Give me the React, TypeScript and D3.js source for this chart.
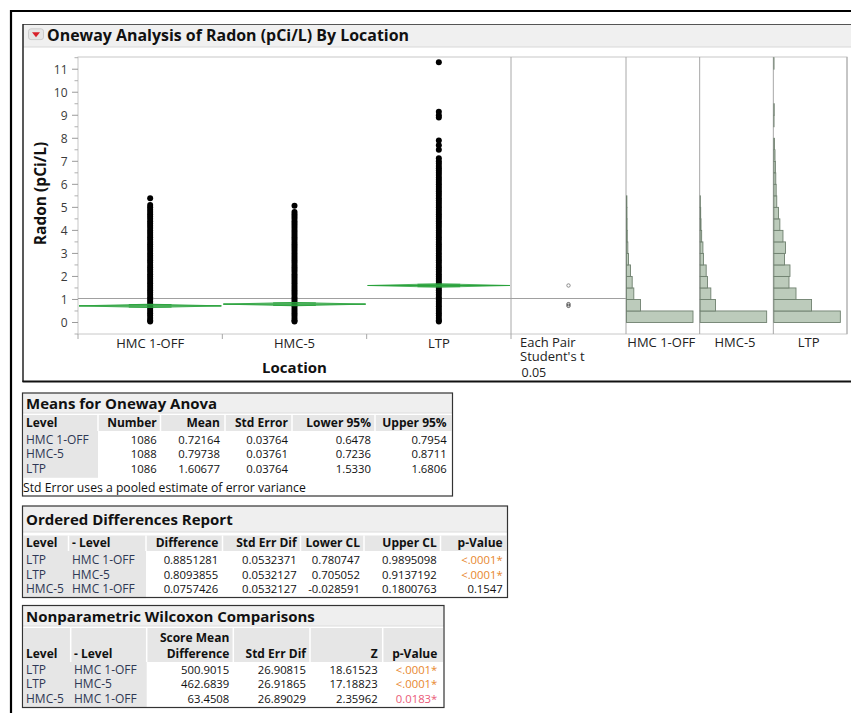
import React from 'react';
import * as d3 from 'd3';

// ---------------- DATA ----------------
const locations = ['HMC 1-OFF', 'HMC-5', 'LTP'];
const yTickValues = [0, 1, 2, 3, 4, 5, 6, 7, 8, 9, 10, 11];

// observed radon values (pCi/L) read from the point columns
const hmc1offValues = [0.04, 0.1, 0.2, 0.3, 0.4, 0.5, 0.6, 0.7, 0.8, 0.9, 1.0, 1.1, 1.2, 1.3, 1.4, 1.5, 1.6, 1.7, 1.8, 1.9, 2.0, 2.1, 2.2, 2.3, 2.4, 2.5, 2.6, 2.7, 2.8, 2.9, 3.0, 3.1, 3.2, 3.3, 3.4, 3.5, 3.6, 3.7, 3.8, 3.9, 4.0, 4.1, 4.2, 4.3, 4.4, 4.5, 4.6, 4.7, 4.8, 4.9, 5.0, 5.1, 5.4];
const hmc5Values = [0.04, 0.1, 0.2, 0.3, 0.4, 0.5, 0.6, 0.7, 0.8, 0.9, 1.0, 1.1, 1.2, 1.3, 1.4, 1.5, 1.6, 1.7, 1.8, 1.9, 2.0, 2.1, 2.2, 2.3, 2.4, 2.5, 2.6, 2.7, 2.8, 2.9, 3.0, 3.1, 3.2, 3.3, 3.4, 3.5, 3.6, 3.7, 3.8, 3.9, 4.0, 4.1, 4.2, 4.3, 4.4, 4.5, 4.6, 4.7, 4.8, 5.07];
const ltpValues = [0.04, 0.1, 0.2, 0.3, 0.4, 0.5, 0.6, 0.7, 0.8, 0.9, 1.0, 1.1, 1.2, 1.3, 1.4, 1.5, 1.6, 1.7, 1.8, 1.9, 2.0, 2.1, 2.2, 2.3, 2.4, 2.5, 2.6, 2.7, 2.8, 2.9, 3.0, 3.1, 3.2, 3.3, 3.4, 3.5, 3.6, 3.7, 3.8, 3.9, 4.0, 4.1, 4.2, 4.3, 4.4, 4.5, 4.6, 4.7, 4.8, 4.9, 5.0, 5.1, 5.2, 5.3, 5.4, 5.5, 5.6, 5.7, 5.8, 5.9, 6.0, 6.1, 6.2, 6.3, 6.4, 6.5, 6.6, 6.7, 6.8, 6.9, 7.0, 7.13, 7.5, 7.7, 7.9, 8.9, 9.0, 9.15, 11.3];

// Means for Oneway Anova
const meanNumber = [1086, 1088, 1086];
const meanValues = [0.72164, 0.79738, 1.60677];
const meanStdError = [0.03764, 0.03761, 0.03764];
const meanLower95 = [0.6478, 0.7236, 1.533];
const meanUpper95 = [0.7954, 0.8711, 1.6806];
const grandMean = 1.0418;
const studentT = 1.9607;

// histograms (bin width 0.5 starting at 0)
const histBinWidth = 0.5;
const hmc1offHist = [701, 148, 77, 60, 42, 21, 14, 8, 6, 5, 4];
const hmc5Hist = [630, 145, 101, 69, 57, 31, 26, 14, 8, 5, 2];
const ltpHist = [342, 194, 114, 78, 83, 55, 60, 47, 31, 24, 15, 12, 10, 8, 6, 3, 0, 1, 2, 0, 0, 0, 1];

// Ordered Differences Report
const odLevel = ['LTP', 'LTP', 'HMC-5'];
const odMinusLevel = ['HMC 1-OFF', 'HMC-5', 'HMC 1-OFF'];
const odDifference = [0.8851281, 0.8093855, 0.0757426];
const odStdErrDif = [0.0532371, 0.0532127, 0.0532127];
const odLowerCL = [0.780747, 0.705052, -0.028591];
const odUpperCL = [0.9895098, 0.9137192, 0.1800763];
const odPValue = ['<.0001*', '<.0001*', '0.1547'];

// Nonparametric Wilcoxon Comparisons
const wLevel = ['LTP', 'LTP', 'HMC-5'];
const wMinusLevel = ['HMC 1-OFF', 'HMC-5', 'HMC 1-OFF'];
const wScoreMeanDiff = [500.9015, 462.6839, 63.4508];
const wStdErrDif = [26.90815, 26.91865, 26.89029];
const wZ = [18.61523, 17.18823, 2.35962];
const wPValue = ['<.0001*', '<.0001*', '0.0183*'];

// ---------------- STYLE ----------------
const FONT = '"Open Sans", "Noto Sans", "DejaVu Sans", sans-serif';
const GREEN = '#2aa23c';
const LEVEL_TEXT = '#2e3854';

function pColor(p: string) {
  if (p.startsWith('<')) return '#e8872e';
  if (p.endsWith('*')) return '#ea5a78';
  return '#111';
}

type Col = { header: string[]; anchor: 'start' | 'end'; x: number; cells: string[]; color?: (s: string) => string; level?: boolean };

function Table(props: {
  x0: number; x1: number; y0: number; y1: number; title: string; titleBaseline: number; titleBottom: number;
  headTop: number; headBottom: number; headBaselines: number[]; rowBaselines: number[];
  cols: Col[]; seps: number[]; levelRight: number; footnote?: string; footBaseline?: number;
}) {
  const p = props;
  const nLines = p.headBaselines.length;
  return (
    <g fontFamily={FONT}>
      <rect x={p.x0} y={p.y0} width={p.x1 - p.x0} height={p.titleBottom - p.y0} fill="#efefef" />
      <line x1={p.x0} x2={p.x1} y1={p.titleBottom} y2={p.titleBottom} stroke="#dcdcdc" />
      <text x={p.x0 + 3.5} y={p.titleBaseline} fontSize={15} fontWeight="bold" fill="#111">{p.title}</text>
      <rect x={p.x0 + 1} y={p.headTop} width={p.x1 - p.x0 - 2} height={p.headBottom - p.headTop} fill="#e6e6e6" />
      <rect x={p.x0 + 1} y={p.headBottom} width={p.levelRight - p.x0 - 1} height={p.rowBaselines[p.rowBaselines.length - 1] + 5 - p.headBottom} fill="#e6e6e6" />
      {p.seps.map((s, i) => (
        <line key={i} x1={s} x2={s} y1={p.headTop} y2={p.headBottom} stroke="#ffffff" strokeWidth={1.5} />
      ))}
      {p.cols.map((c, ci) => (
        <g key={ci}>
          {c.header.map((h, hi) => (
            <text key={hi} x={c.x} y={p.headBaselines[nLines - c.header.length + hi]} textAnchor={c.anchor} fontSize={12} fontWeight="bold" fill="#111">{h}</text>
          ))}
          {c.cells.map((v, ri) => (
            <text key={ri} x={c.x} y={p.rowBaselines[ri]} textAnchor={c.anchor} fontSize={c.level ? 12 : 11.3} fill={c.level ? LEVEL_TEXT : c.color ? c.color(v) : '#111'}>{v}</text>
          ))}
        </g>
      ))}
      {p.footnote && (
        <text x={p.x0 + 0.5} y={p.footBaseline} fontSize={12.2} fill="#111">{p.footnote}</text>
      )}
      <rect x={p.x0} y={p.y0} width={p.x1 - p.x0} height={p.y1 - p.y0} fill="none" stroke="#333" strokeWidth={1.2} />
    </g>
  );
}

export default function App() {
  const W = 851, H = 713;
  const plotTop = 57, plotBottom = 334, plotLeft = 78, plotRight = 511;
  const pairRight = 626, histRight = 847;

  const y = d3.scaleLinear().domain([-0.5, 11.53]).range([plotBottom, plotTop]);
  const x = d3.scaleBand<string>().domain(locations).range([plotLeft, plotRight]).padding(0);
  const xh = d3.scaleBand<string>().domain(locations).range([pairRight, histRight]).padding(0);
  const pxPerUnit = y(0) - y(1);

  const pointSets = [hmc1offValues, hmc5Values, ltpValues];
  const hists = [hmc1offHist, hmc5Hist, ltpHist];
  const minorTicks = d3.range(-0.5, 11.51, 0.5).filter((v) => Math.abs(v - Math.round(v)) > 0.01);
  const pairX = 568.5;

  return (
    <svg width={W} height={H} style={{ position: 'absolute', left: 0, top: 0, background: '#fff' }} fontFamily={FONT}>
      <rect x={0} y={0} width={W} height={H} fill="#fff" />
      {/* outer frame */}
      <line x1={11} x2={851} y1={11} y2={11} stroke="#000" strokeWidth={2} />
      <line x1={11} x2={11} y1={10} y2={713} stroke="#000" strokeWidth={2.2} />

      {/* oneway panel */}
      <rect x={23} y={24.5} width={840} height={22.5} fill="#f0f0f0" />
      <line x1={23} x2={851} y1={47} y2={47} stroke="#d8d8d8" />
      <line x1={23} x2={851} y1={24.5} y2={24.5} stroke="#555" strokeWidth={1.2} />
      <line x1={23} x2={23} y1={24} y2={382} stroke="#222" strokeWidth={1.5} />
      <line x1={22.5} x2={851} y1={381.5} y2={381.5} stroke="#111" strokeWidth={2} />
      <rect x={28.5} y={28.8} width={15} height={10.8} rx={2.5} fill="#e6e6e6" stroke="#c4c4c4" strokeWidth={0.8} />
      <path d="M32,32.2 L40,32.2 L36,37.2 Z" fill="#d8202a" />
      <text x={47} y={40.7} fontSize={16} fontWeight="bold" fill="#111" textLength={362} lengthAdjust="spacingAndGlyphs">
        Oneway Analysis of Radon (pCi/L) By Location
      </text>

      {/* frames */}
      <rect x={plotLeft} y={plotTop} width={histRight - plotLeft} height={plotBottom - plotTop} fill="none" stroke="#c8c8c8" />
      {[plotRight, pairRight, xh('HMC-5')!, xh('LTP')!, histRight].map((v, i) => (
        <line key={i} x1={v} x2={v} y1={plotTop} y2={plotBottom} stroke="#a8a8a8" />
      ))}

      {/* y axis */}
      {yTickValues.map((t) => (
        <g key={t}>
          <line x1={72} x2={plotLeft} y1={y(t)} y2={y(t)} stroke="#9a9a9a" />
          <text x={67.5} y={y(t) + 4.3} textAnchor="end" fontSize={12} fill="#3a3a3a">{t}</text>
        </g>
      ))}
      {minorTicks.map((t) => (
        <line key={t} x1={74.5} x2={plotLeft} y1={y(t)} y2={y(t)} stroke="#b0b0b0" />
      ))}
      <text transform={`translate(45.7,193.5) rotate(-90)`} textAnchor="middle" fontSize={15.5} fontWeight="bold" fill="#111">Radon (pCi/L)</text>

      {/* x axis */}
      {[plotLeft, x('HMC-5')!, x('LTP')!, plotRight].map((v, i) => (
        <line key={i} x1={v} x2={v} y1={plotBottom} y2={plotBottom + 5} stroke="#a8a8a8" />
      ))}
      {locations.map((l) => (
        <text key={l} x={x(l)! + x.bandwidth() / 2} y={348.3} textAnchor="middle" fontSize={13} fill="#222">{l}</text>
      ))}
      <text x={294.5} y={373.3} textAnchor="middle" fontSize={15} fontWeight="bold" fill="#111">Location</text>

      {/* grand mean line */}
      <line x1={plotLeft} x2={pairRight} y1={y(grandMean)} y2={y(grandMean)} stroke="#a0a0a0" strokeWidth={1.2} />

      {/* points */}
      {locations.map((l, i) => (
        <g key={l}>
          {pointSets[i].map((v, j) => (
            <circle key={j} cx={x(l)! + x.bandwidth() / 2} cy={y(v)} r={3} fill="#000" />
          ))}
        </g>
      ))}

      {/* mean diamonds */}
      {locations.map((l, i) => {
        const x0 = x(l)! + 1, x1 = x(l)! + x.bandwidth() - 1, c = x(l)! + x.bandwidth() / 2;
        const m = y(meanValues[i]);
        const poly = `M${x0},${m} L${c},${y(meanUpper95[i])} L${x1},${m} L${c},${y(meanLower95[i])} Z`;
        const half = (meanUpper95[i] - meanValues[i]) / Math.SQRT2;
        const ol = 0.3 * (x1 - x0) / 2;
        return (
          <g key={l}>
            <path d={poly} fill={GREEN} fillOpacity={0.35} stroke={GREEN} strokeWidth={0.8} />
            <line x1={x0} x2={x1} y1={m} y2={m} stroke={GREEN} strokeWidth={1.2} />
            <line x1={c - ol} x2={c + ol} y1={y(meanValues[i] + half)} y2={y(meanValues[i] + half)} stroke={GREEN} strokeWidth={1} />
            <line x1={c - ol} x2={c + ol} y1={y(meanValues[i] - half)} y2={y(meanValues[i] - half)} stroke={GREEN} strokeWidth={1} />
          </g>
        );
      })}

      {/* comparison circles */}
      {locations.map((l, i) => (
        <circle key={l} cx={pairX} cy={y(meanValues[i])} r={studentT * meanStdError[i] * pxPerUnit} fill="none" stroke={i === 2 ? '#8a8a8a' : '#555'} strokeWidth={1} />
      ))}
      <text x={520} y={346.7} fontSize={13} fill="#222">Each Pair</text>
      <text x={520} y={360.9} fontSize={13} fill="#222">Student's t</text>
      <text x={521.5} y={376.8} fontSize={12.5} fill="#222">0.05</text>

      {/* histograms */}
      {locations.map((l, i) => {
        const left = xh(l)! + 0.5;
        const hs = d3.scaleLinear().domain([0, d3.max(hists[i])!]).range([0, 66.5]);
        return (
          <g key={l}>
            {hists[i].map((cnt, b) => cnt > 0 && (
              <rect key={b} x={left} y={y((b + 1) * histBinWidth)} width={hs(cnt)} height={y(b * histBinWidth) - y((b + 1) * histBinWidth)}
                fill="#bccbbb" stroke="#6f806f" strokeWidth={0.9} />
            ))}
            <text x={xh(l)! + xh.bandwidth() / 2 - 1.5} y={346.9} textAnchor="middle" fontSize={13} fill="#222">{l}</text>
          </g>
        );
      })}

      {/* Means for Oneway Anova */}
      <Table
        x0={22.5} x1={452.5} y0={393} y1={496}
        title="Means for Oneway Anova" titleBaseline={408.5} titleBottom={413}
        headTop={415} headBottom={431} headBaselines={[427.3]} rowBaselines={[443.8, 458.3, 472.8]}
        seps={[98, 160.5, 225, 292, 375]} levelRight={98}
        footnote="Std Error uses a pooled estimate of error variance" footBaseline={491.6}
        cols={[
          { header: ['Level'], anchor: 'start', x: 26, cells: locations, level: true },
          { header: ['Number'], anchor: 'end', x: 156.7, cells: meanNumber.map(String) },
          { header: ['Mean'], anchor: 'end', x: 220, cells: meanValues.map((v) => v.toFixed(5)) },
          { header: ['Std Error'], anchor: 'end', x: 288, cells: meanStdError.map((v) => v.toFixed(5)) },
          { header: ['Lower 95%'], anchor: 'end', x: 371, cells: meanLower95.map((v) => v.toFixed(4)) },
          { header: ['Upper 95%'], anchor: 'end', x: 446.7, cells: meanUpper95.map((v) => v.toFixed(4)) },
        ]}
      />

      {/* Ordered Differences Report */}
      <Table
        x0={22.5} x1={507.5} y0={506} y1={597.5}
        title="Ordered Differences Report" titleBaseline={524.5} titleBottom={532}
        headTop={535.5} headBottom={551} headBaselines={[547.3]} rowBaselines={[564, 578.6, 593.2]}
        seps={[68.5, 146, 222.5, 300.5, 364, 440.5]} levelRight={146}
        cols={[
          { header: ['Level'], anchor: 'start', x: 26, cells: odLevel, level: true },
          { header: ['- Level'], anchor: 'start', x: 72, cells: odMinusLevel, level: true },
          { header: ['Difference'], anchor: 'end', x: 218.3, cells: odDifference.map((v) => v.toFixed(7)) },
          { header: ['Std Err Dif'], anchor: 'end', x: 296.7, cells: odStdErrDif.map((v) => v.toFixed(7)) },
          { header: ['Lower CL'], anchor: 'end', x: 360, cells: odLowerCL.map((v) => v.toFixed(6)) },
          { header: ['Upper CL'], anchor: 'end', x: 436.7, cells: odUpperCL.map((v) => v.toFixed(7)) },
          { header: ['p-Value'], anchor: 'end', x: 502.7, cells: odPValue, color: pColor },
        ]}
      />

      {/* Nonparametric Wilcoxon Comparisons */}
      <Table
        x0={22.5} x1={444} y0={605.5} y1={707.5}
        title="Nonparametric Wilcoxon Comparisons" titleBaseline={621.6} titleBottom={626}
        headTop={628} headBottom={662} headBaselines={[641.6, 658.3]} rowBaselines={[674, 688.3, 702.6]}
        seps={[70.7, 146.7, 233.3, 310, 382.7]} levelRight={146.7}
        cols={[
          { header: ['Level'], anchor: 'start', x: 26, cells: wLevel, level: true },
          { header: ['- Level'], anchor: 'start', x: 74, cells: wMinusLevel, level: true },
          { header: ['Score Mean', 'Difference'], anchor: 'end', x: 229.3, cells: wScoreMeanDiff.map((v) => v.toFixed(4)) },
          { header: ['Std Err Dif'], anchor: 'end', x: 306, cells: wStdErrDif.map((v) => v.toFixed(5)) },
          { header: ['Z'], anchor: 'end', x: 377.7, cells: wZ.map((v) => v.toFixed(5)) },
          { header: ['p-Value'], anchor: 'end', x: 437.3, cells: wPValue, color: pColor },
        ]}
      />
    </svg>
  );
}
